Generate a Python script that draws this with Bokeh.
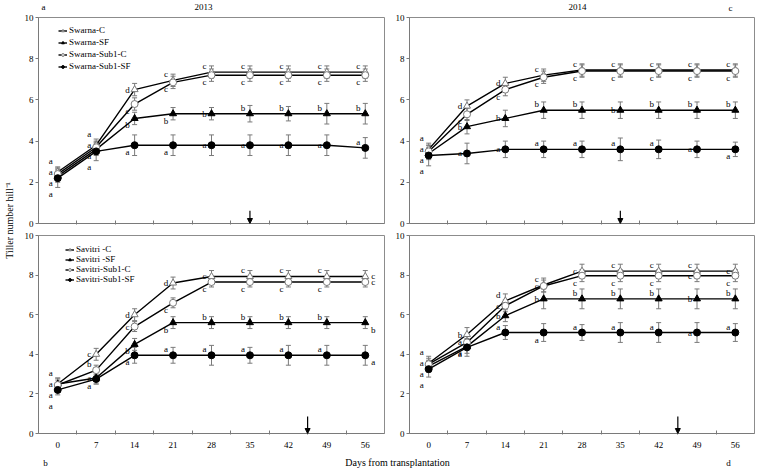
import math
from bokeh.plotting import figure
from bokeh.models import (Range1d, FixedTicker, ColumnDataSource, Whisker, TeeHead,
                          Arrow, NormalHead, Label, LabelSet, Legend, LegendItem)
from bokeh.layouts import row, column
from bokeh.embed import file_html
from bokeh.resources import INLINE
from bokeh.core.properties import value

FONT = "Liberation Serif"

# ---------------- data ----------------
days = [0, 7, 14, 21, 28, 35, 42, 49, 56]
y_ticks = [0, 2, 4, 6, 8, 10]

# panel a : 2013, Swarna
swarna_names = ["Swarna-C", "Swarna-SF", "Swarna-Sub1-C", "Swarna-Sub1-SF"]
sw13_c = [2.5, 3.8, 6.5, 6.95, 7.35, 7.35, 7.35, 7.35, 7.35]
sw13_c_err = [0.25, 0.3, 0.3, 0.3, 0.3, 0.3, 0.3, 0.3, 0.3]
sw13_sf = [2.3, 3.6, 5.1, 5.33, 5.33, 5.33, 5.33, 5.33, 5.33]
sw13_sf_err = [0.3, 0.3, 0.3, 0.3, 0.3, 0.4, 0.35, 0.5, 0.5]
sw13_s1c = [2.4, 3.7, 5.8, 6.85, 7.2, 7.2, 7.2, 7.2, 7.2]
sw13_s1c_err = [0.3, 0.3, 0.3, 0.3, 0.3, 0.3, 0.3, 0.3, 0.3]
sw13_s1sf = [2.2, 3.5, 3.8, 3.8, 3.8, 3.8, 3.8, 3.8, 3.67]
sw13_s1sf_err = [0.45, 0.45, 0.5, 0.5, 0.5, 0.5, 0.5, 0.5, 0.5]
sw13_c_sig = ["a", "a", "d", "c", "c", "c", "c", "c", "c"]
sw13_sf_sig = ["a", "a", "b", "b", "b", "b", "b", "b", "b"]
sw13_s1c_sig = ["a", "a", "c", "c", "c", "c", "c", "c", "c"]
sw13_s1sf_sig = ["a", "a", "a", "a", "a", "a", "a", "a", "a"]

# panel c : 2014, Swarna
sw14_c = [3.6, 5.7, 6.8, 7.2, 7.45, 7.45, 7.45, 7.45, 7.45]
sw14_c_err = [0.3, 0.3, 0.3, 0.3, 0.3, 0.3, 0.3, 0.3, 0.3]
sw14_sf = [3.4, 4.7, 5.1, 5.5, 5.5, 5.5, 5.5, 5.5, 5.5]
sw14_sf_err = [0.3, 0.35, 0.4, 0.4, 0.4, 0.4, 0.4, 0.4, 0.4]
sw14_s1c = [3.5, 5.3, 6.5, 7.1, 7.4, 7.4, 7.4, 7.4, 7.4]
sw14_s1c_err = [0.3, 0.3, 0.3, 0.3, 0.3, 0.3, 0.3, 0.3, 0.3]
sw14_s1sf = [3.3, 3.4, 3.6, 3.6, 3.6, 3.6, 3.6, 3.6, 3.6]
sw14_s1sf_err = [0.5, 0.5, 0.4, 0.4, 0.4, 0.55, 0.45, 0.4, 0.35]
sw14_c_sig = ["a", "d", "d", "c", "c", "c", "c", "c", "c"]
sw14_sf_sig = ["a", "b", "b", "b", "b", "b", "b", "b", "b"]
sw14_s1c_sig = ["a", "c", "c", "c", "c", "c", "c", "c", "c"]
sw14_s1sf_sig = ["a", "a", "a", "a", "a", "a", "a", "a", "a"]

# panel b : 2013, Savitri
savitri_names = ["Savitri -C", "Savitri -SF", "Savitri-Sub1-C", "Savitri-Sub1-SF"]
sv13_c = [2.5, 4.0, 6.0, 7.6, 7.93, 7.93, 7.93, 7.93, 7.93]
sv13_c_err = [0.3, 0.3, 0.3, 0.3, 0.3, 0.3, 0.3, 0.3, 0.3]
sv13_sf = [2.5, 2.8, 4.5, 5.6, 5.6, 5.6, 5.6, 5.6, 5.6]
sv13_sf_err = [0.3, 0.3, 0.3, 0.3, 0.3, 0.3, 0.3, 0.3, 0.3]
sv13_s1c = [2.45, 3.2, 5.4, 6.6, 7.65, 7.65, 7.65, 7.65, 7.65]
sv13_s1c_err = [0.25, 0.25, 0.25, 0.25, 0.25, 0.25, 0.25, 0.25, 0.25]
sv13_s1sf = [2.2, 2.75, 3.95, 3.95, 3.95, 3.95, 3.95, 3.95, 3.95]
sv13_s1sf_err = [0.25, 0.25, 0.4, 0.4, 0.5, 0.4, 0.5, 0.5, 0.5]
sv13_c_sig = ["a", "c", "d", "d", "c", "c", "c", "c", "c"]
sv13_sf_sig = ["a", "a", "b", "b", "b", "b", "b", "b", "b"]
sv13_s1c_sig = ["a", "b", "c", "c", "c", "c", "c", "c", "c"]
sv13_s1sf_sig = ["a", "a", "a", "a", "a", "a", "a", "a", "a"]

# panel d : 2014, Savitri
sv14_c = [3.55, 5.0, 6.7, 7.5, 8.2, 8.2, 8.2, 8.2, 8.2]
sv14_c_err = [0.35, 0.35, 0.35, 0.35, 0.35, 0.35, 0.35, 0.35, 0.35]
sv14_sf = [3.4, 4.4, 5.95, 6.8, 6.8, 6.8, 6.8, 6.8, 6.8]
sv14_sf_err = [0.3, 0.35, 0.3, 0.5, 0.5, 0.5, 0.5, 0.5, 0.5]
sv14_s1c = [3.5, 4.6, 6.45, 7.45, 7.97, 7.97, 7.97, 7.97, 7.97]
sv14_s1c_err = [0.3, 0.3, 0.3, 0.3, 0.3, 0.3, 0.3, 0.3, 0.3]
sv14_s1sf = [3.25, 4.35, 5.1, 5.1, 5.1, 5.1, 5.1, 5.1, 5.1]
sv14_s1sf_err = [0.4, 0.45, 0.35, 0.45, 0.4, 0.5, 0.5, 0.5, 0.45]
sv14_c_sig = ["a", "b", "d", "c", "c", "c", "c", "c", "c"]
sv14_sf_sig = ["a", "a", "b", "b", "b", "b", "b", "b", "b"]
sv14_s1c_sig = ["a", "a", "c", "c", "c", "c", "c", "c", "c"]
sv14_s1sf_sig = ["a", "a", "a", "a", "a", "a", "a", "a", "a"]

# submergence (flooding) arrows, as category index
arrow_idx_2013_swarna = 5.0
arrow_idx_2014_swarna = 5.0
arrow_idx_2013_savitri = 6.5
arrow_idx_2014_savitri = 6.5

# --------------- letter placement (layout only) ---------------
# "0".."3": stacked column left of the day; u/m/d: left, above/middle/below; R/Q: right mid/below
pos_a = [["0", "0", "m", "u", "u", "u", "u", "u", "u"],
         ["2", "2", "d", "d", "m", "u", "u", "u", "u"],
         ["1", "1", "d", "d", "d", "d", "d", "d", "d"],
         ["3", "3", "d", "d", "m", "m", "m", "m", "u"]]
pos_c = [["0", "m", "m", "u", "u", "u", "u", "u", "u"],
         ["2", "m", "m", "u", "u", "m", "u", "u", "u"],
         ["1", "d", "d", "d", "d", "d", "d", "d", "d"],
         ["3", "m", "m", "u", "u", "u", "u", "m", "d"]]
pos_b = [["0", "m", "m", "m", "m", "u", "u", "u", "R"],
         ["2", "m", "d", "d", "u", "u", "u", "u", "Q"],
         ["1", "u", "m", "d", "d", "d", "d", "d", "R"],
         ["3", "d", "d", "u", "u", "u", "u", "u", "Q"]]
pos_d = [["0", "m", "u", "u", "m", "u", "u", "u", "m"],
         ["2", "d", "m", "m", "u", "u", "u", "m", "u"],
         ["1", "m", "m", "m", "d", "d", "d", "m", "d"],
         ["3", "d", "u", "d", "u", "u", "u", "m", "u"]]

OFFS = {"u": (-7, 6), "m": (-7, 0), "d": (-7, -7), "R": (8, 0), "Q": (8, -7)}

LINE = "#000000"
GREY = "#7a7a7a"
STYLES = [  # C, SF, Sub1-C, Sub1-SF
    dict(marker="triangle", fill_color="white", line_color=GREY, size=7),
    dict(marker="triangle", fill_color="black", line_color="black", size=7),
    dict(marker="circle", fill_color="white", line_color=GREY, size=7),
    dict(marker="circle", fill_color="black", line_color="black", size=7),
]


def build_panel(vals, errs, sigs, pos, fw, fh, mb, show_xlabels, arrow_idx, arrow_len,
                legend_names=None, legend_xy=None, legend_spacing=0):
    left, right, top, bottom = mb
    p = figure(width=left + fw + right, height=top + fh + bottom,
               x_range=Range1d(-0.5, 8.5), y_range=Range1d(0, 10),
               output_backend="svg", toolbar_location=None,
               min_border_left=left, min_border_right=right,
               min_border_top=top, min_border_bottom=bottom,
               background_fill_color="white", border_fill_color="white")
    p.xgrid.visible = False
    p.ygrid.visible = False
    p.outline_line_color = "#8c8c8c"
    p.outline_line_width = 1

    idx = list(range(len(days)))
    bounds = [i + 0.5 for i in range(len(days) - 1)]
    xa = p.xaxis[0]
    if show_xlabels:
        xa.ticker = FixedTicker(ticks=idx, minor_ticks=bounds)
        xa.major_label_overrides = {i: str(d) for i, d in enumerate(days)}
        xa.major_label_standoff = 7
    else:
        xa.ticker = FixedTicker(ticks=[], minor_ticks=bounds)
        xa.major_label_standoff = 0
    xa.major_tick_in = 0
    xa.major_tick_out = 0
    xa.minor_tick_in = 3
    xa.minor_tick_out = 1
    xa.minor_tick_line_color = GREY
    xa.axis_line_color = GREY
    xa.major_label_text_font = FONT
    xa.major_label_text_font_size = "9px"
    xa.major_label_text_color = "black"

    ya = p.yaxis[0]
    ya.ticker = FixedTicker(ticks=y_ticks, minor_ticks=[])
    ya.major_tick_in = 0
    ya.major_tick_out = 3
    ya.major_tick_line_color = GREY
    ya.axis_line_color = GREY
    ya.major_label_standoff = 2
    ya.major_label_text_font = FONT
    ya.major_label_text_font_size = "9px"
    ya.major_label_text_color = "black"

    items = []
    for k in range(4):
        v, e, st = vals[k], errs[k], STYLES[k]
        src = ColumnDataSource(dict(x=idx, y=v,
                                    up=[a + b for a, b in zip(v, e)],
                                    lo=[a - b for a, b in zip(v, e)]))
        w = Whisker(source=src, base="x", upper="up", lower="lo",
                    line_color=GREY, line_width=1,
                    upper_head=TeeHead(size=5, line_color=GREY, line_width=1),
                    lower_head=TeeHead(size=5, line_color=GREY, line_width=1))
        p.add_layout(w)
        lr = p.line("x", "y", source=src, line_color=LINE, line_width=1.4)
        sr = p.scatter("x", "y", source=src, marker=st["marker"], size=st["size"],
                       fill_color=st["fill_color"], line_color=st["line_color"],
                       line_width=1)
        if legend_names:
            items.append(LegendItem(label=legend_names[k], renderers=[lr, sr]))

    # significance letters
    pxx = fw / 9.0
    pxy = fh / 10.0
    lx, ly, lt = [], [], []
    for i in idx:
        top_v = max(vals[k][i] for k in range(4))
        for k in range(4):
            code = pos[k][i]
            t = sigs[k][i]
            if not t:
                continue
            if code in "0123":
                s = int(code)
                dx, dy = -7, 11 - 11 * s
                yy = top_v + dy / pxy
            else:
                dx, dy = OFFS[code]
                yy = vals[k][i] + dy / pxy
            lx.append(i + dx / pxx)
            ly.append(yy)
            lt.append(t)
    lsrc = ColumnDataSource(dict(x=lx, y=ly, t=lt))
    p.add_layout(LabelSet(x="x", y="y", text="t", source=lsrc,
                          text_align="center", text_baseline="middle",
                          text_font=value(FONT), text_font_size=value("9px"),
                          text_color=value("#000000")))

    # arrow
    p.add_layout(Arrow(end=NormalHead(size=5, fill_color="black", line_color="black"),
                       x_start=arrow_idx, y_start=arrow_len, x_end=arrow_idx, y_end=0.0,
                       line_color="black", line_width=1.2))

    if items:
        leg = Legend(items=items, location=legend_xy,
                     border_line_color=None, background_fill_alpha=0,
                     label_text_font=FONT, label_text_font_size="9px",
                     label_text_color="black",
                     glyph_width=9, glyph_height=7, label_height=7,
                     label_standoff=2, spacing=legend_spacing, padding=0, margin=0)
        p.add_layout(leg)
    return p


FW_L, FW_R = 346, 345
FH_T, FH_B = 206, 198

pa = build_panel([sw13_c, sw13_sf, sw13_s1c, sw13_s1sf],
                 [sw13_c_err, sw13_sf_err, sw13_s1c_err, sw13_s1sf_err],
                 [sw13_c_sig, sw13_sf_sig, sw13_s1c_sig, sw13_s1sf_sig], pos_a,
                 FW_L, FH_T, (20, 2, 6, 6), False, arrow_idx_2013_swarna, 0.62,
                 swarna_names, (20, 152), 2)
pc = build_panel([sw14_c, sw14_sf, sw14_s1c, sw14_s1sf],
                 [sw14_c_err, sw14_sf_err, sw14_s1c_err, sw14_s1sf_err],
                 [sw14_c_sig, sw14_sf_sig, sw14_s1c_sig, sw14_s1sf_sig], pos_c,
                 FW_R, FH_T, (23, 3, 6, 6), False, arrow_idx_2014_swarna, 0.62)
pb = build_panel([sv13_c, sv13_sf, sv13_s1c, sv13_s1sf],
                 [sv13_c_err, sv13_sf_err, sv13_s1c_err, sv13_s1sf_err],
                 [sv13_c_sig, sv13_sf_sig, sv13_s1c_sig, sv13_s1sf_sig], pos_b,
                 FW_L, FH_B, (20, 2, 6, 22), True, arrow_idx_2013_savitri, 0.86,
                 savitri_names, (27, 149), 0)
pd_ = build_panel([sv14_c, sv14_sf, sv14_s1c, sv14_s1sf],
                  [sv14_c_err, sv14_sf_err, sv14_s1c_err, sv14_s1sf_err],
                  [sv14_c_sig, sv14_sf_sig, sv14_s1c_sig, sv14_s1sf_sig], pos_d,
                  FW_R, FH_B, (23, 3, 6, 22), True, arrow_idx_2014_savitri, 0.86)


def strip(w, h):
    s = figure(width=w, height=h, x_range=Range1d(0, w), y_range=Range1d(0, h),
               output_backend="svg", toolbar_location=None,
               x_axis_type=None, y_axis_type=None,
               min_border_left=0, min_border_right=0, min_border_top=0, min_border_bottom=0,
               background_fill_color="white", border_fill_color="white")
    s.outline_line_color = None
    s.xgrid.visible = False
    s.ygrid.visible = False
    return s


def strip_text(s, x, y, text, size="9px"):
    s.add_layout(Label(x=x, y=y, text=text, text_align="center", text_baseline="middle",
                       text_font=FONT, text_font_size=size, text_color="black"))


ylab = strip(18, 467)
ylab.add_layout(Label(x=9, y=247, text="Tiller number hill\u207b\u00b9", angle=math.pi / 2,
                      text_align="center", text_baseline="middle",
                      text_font=FONT, text_font_size="10px", text_color="black"))

topstrip = strip(739, 11)
strip_text(topstrip, 25, 5.5, "a")
strip_text(topstrip, 185, 5.5, "2013")
strip_text(topstrip, 559, 5.5, "2014")
strip_text(topstrip, 712, 5, "c")

bot = strip(739, 13)
strip_text(bot, 27, 6, "b")
strip_text(bot, 379, 6, "Days from transplantation", "10px")
strip_text(bot, 710, 6, "d")

layout = row(ylab, column(topstrip, row(pa, pc), row(pb, pd_), bot))

with open("out.html", "w") as f:
    f.write(file_html(layout, INLINE))
